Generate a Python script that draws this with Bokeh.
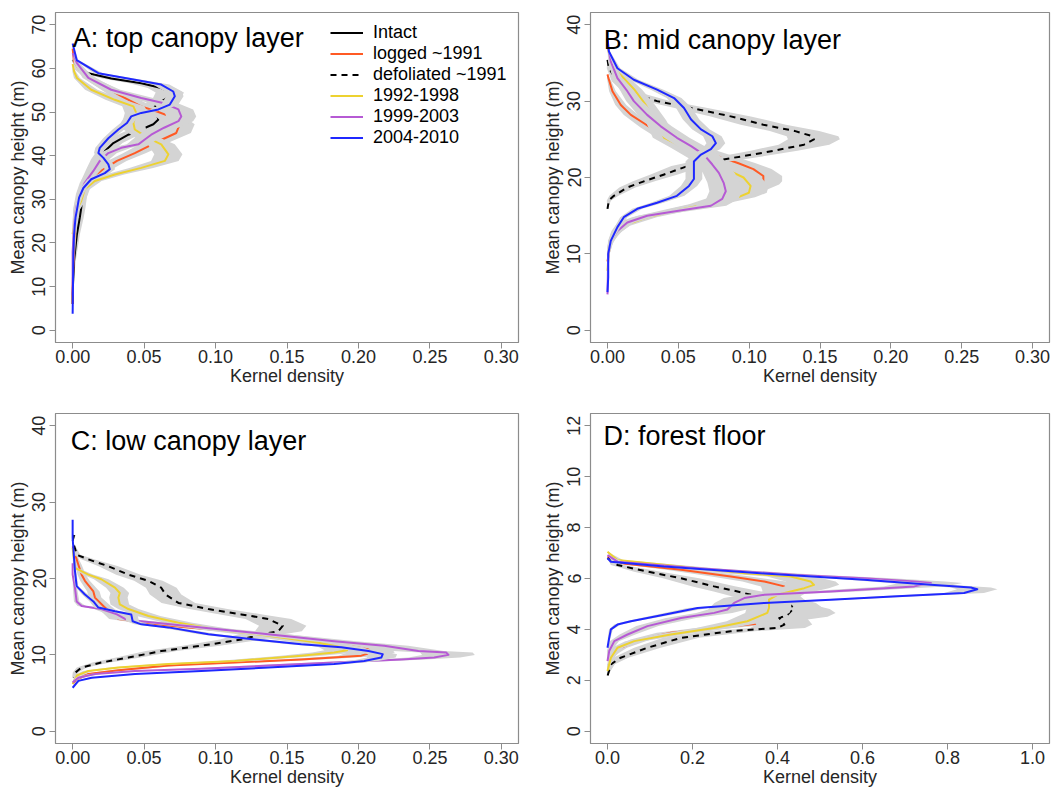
import math
from bokeh.plotting import figure
from bokeh.layouts import gridplot
from bokeh.models import Range1d, FixedTicker, PrintfTickFormatter, Label, Legend, LegendItem
from bokeh.embed import file_html
from bokeh.resources import INLINE

FONT = "Liberation Sans"

# ---------------- data (kernel density, canopy height in m) ----------------
series_names = ["Intact", "logged ~1991", "defoliated ~1991", "1992-1998", "1999-2003", "2004-2010"]

A_intact = [(0.000, 62.0), (0.004, 59.7), (0.011, 58.9), (0.027, 57.7), (0.048, 56.6), (0.062, 55.5),
            (0.068, 54.5), (0.066, 53.2), (0.059, 51.8), (0.056, 50.6), (0.059, 49.4), (0.060, 48.3),
            (0.0565, 47.2), (0.048, 46.0), (0.039, 44.8), (0.0285, 42.9), (0.0225, 41.0), (0.018, 39.2),
            (0.0145, 37.2), (0.010, 34.5), (0.007, 31.0), (0.006, 28.0), (0.005, 25.8), (0.003, 22.0),
            (0.001, 16.0), (0.000, 8.6), (0.000, 6.0)]
A_logged = [(0.000, 64.5), (0.001, 61.5), (0.005, 59.5), (0.016, 57.0), (0.033, 53.8), (0.048, 51.3),
            (0.060, 50.0), (0.068, 49.0), (0.075, 47.2), (0.0725, 45.2), (0.060, 43.3), (0.0435, 40.6),
            (0.031, 38.8), (0.020, 36.5), (0.011, 34.2), (0.005, 30.4), (0.002, 27.5), (0.001, 20.0),
            (0.000, 10.0), (0.000, 6.0)]
A_defoliated = []
A_1992 = [(0.000, 61.0), (0.001, 59.3), (0.003, 57.8), (0.013, 55.1), (0.0295, 52.8), (0.0425, 51.3),
          (0.0445, 49.8), (0.0425, 47.5), (0.0435, 46.0), (0.053, 44.0), (0.062, 42.6), (0.067, 40.3),
          (0.0645, 38.8), (0.048, 37.2), (0.0295, 35.7), (0.0155, 34.2), (0.0085, 32.3), (0.006, 29.6),
          (0.002, 27.0), (0.000, 22.0)]
A_1999 = [(0.000, 63.5), (0.003, 61.2), (0.011, 57.8), (0.027, 55.1), (0.048, 53.2), (0.064, 52.0),
          (0.074, 50.6), (0.076, 49.0), (0.074, 47.9), (0.064, 46.4), (0.055, 44.8), (0.0505, 43.7),
          (0.046, 42.6), (0.034, 41.8), (0.025, 40.6), (0.019, 38.8), (0.0145, 36.5), (0.0085, 33.8),
          (0.005, 31.2), (0.0025, 28.2), (0.001, 24.0), (0.000, 18.0), (0.000, 8.0)]
A_2004 = [(0.000, 65.7), (0.0028, 61.9), (0.018, 58.9), (0.0435, 57.4), (0.062, 56.3), (0.0704, 54.7),
          (0.0715, 53.6), (0.068, 51.7), (0.060, 50.6), (0.048, 49.8), (0.041, 49.0), (0.038, 47.5),
          (0.032, 46.0), (0.025, 44.0), (0.019, 41.8), (0.018, 40.6), (0.0215, 39.5), (0.025, 38.0),
          (0.026, 36.9), (0.0225, 36.0), (0.013, 34.6), (0.0075, 32.6), (0.0045, 30.4), (0.0035, 28.5),
          (0.002, 25.8), (0.001, 22.0), (0.0005, 17.5), (0.000, 3.8)]

B_intact = []
B_logged = [(0.000, 33.5), (0.0007, 33.0), (0.0035, 31.3), (0.0094, 29.5), (0.0165, 28.2), (0.0257, 27.1),
            (0.0306, 26.5), (0.045, 25.0), (0.061, 23.9), (0.0776, 22.8), (0.092, 21.9), (0.103, 21.1),
            (0.110, 20.2), (0.110, 19.5), (0.108, 19.1), (0.095, 18.0), (0.080, 17.2), (0.068, 16.5),
            (0.0447, 15.6), (0.0235, 14.8), (0.0115, 14.1), (0.0058, 13.0), (0.0023, 11.7), (0.000, 9.0)]
B_defoliated = [(0.000, 35.4), (0.001, 34.3), (0.007, 32.6), (0.0186, 31.0), (0.035, 30.0), (0.059, 29.1),
                (0.087, 28.0), (0.110, 26.9), (0.132, 26.1), (0.1447, 25.4), (0.1457, 25.0), (0.1387, 24.3),
                (0.1176, 23.5), (0.096, 22.8), (0.073, 22.1), (0.0565, 21.5), (0.040, 20.4), (0.0257, 19.5),
                (0.014, 18.7), (0.0045, 17.6), (0.001, 17.0), (0.000, 15.9)]
B_1992 = [(0.000, 37.0), (0.0035, 34.5), (0.0115, 33.0), (0.019, 31.5), (0.027, 29.5), (0.034, 27.5),
          (0.040, 25.2), (0.054, 23.9), (0.070, 22.3), (0.087, 20.8), (0.096, 20.0), (0.101, 18.9),
          (0.0998, 18.0), (0.092, 17.4), (0.075, 16.7), (0.054, 15.9), (0.028, 14.8), (0.0115, 13.7),
          (0.005, 12.6), (0.001, 10.9), (0.000, 7.8)]
B_1999 = [(0.000, 37.5), (0.0023, 35.2), (0.007, 33.0), (0.014, 31.3), (0.0186, 30.0), (0.028, 28.2),
          (0.0376, 26.7), (0.049, 25.2), (0.059, 24.1), (0.068, 23.0), (0.074, 21.7), (0.0786, 20.6),
          (0.082, 19.3), (0.0835, 18.2), (0.081, 17.2), (0.073, 16.3), (0.049, 15.6), (0.028, 15.0),
          (0.014, 14.1), (0.007, 13.0), (0.0023, 11.7), (0.0005, 10.0), (0.000, 4.7)]
B_2004 = [(0.000, 38.2), (0.001, 36.5), (0.007, 34.3), (0.0186, 32.8), (0.035, 31.5), (0.047, 30.4),
          (0.054, 29.1), (0.059, 27.6), (0.066, 26.3), (0.074, 25.4), (0.0765, 24.5), (0.073, 23.7),
          (0.066, 23.0), (0.061, 22.1), (0.061, 21.1), (0.061, 19.8), (0.0575, 18.9), (0.049, 17.6),
          (0.035, 16.7), (0.021, 15.9), (0.0115, 14.8), (0.007, 13.5), (0.0023, 11.7), (0.0005, 10.0),
          (0.0005, 6.9), (0.000, 5.0)]

C_intact = []
C_logged = [(0.000, 24.2), (0.004, 21.8), (0.0063, 20.5), (0.0086, 19.7), (0.0145, 18.3), (0.0156, 17.5),
            (0.022, 16.3), (0.0284, 15.3), (0.032, 14.7), (0.067, 13.8), (0.137, 12.7), (0.183, 11.6),
            (0.207, 10.7), (0.209, 10.3), (0.202, 9.9), (0.160, 9.4), (0.1135, 9.0), (0.067, 8.6),
            (0.032, 8.0), (0.011, 7.5), (0.003, 6.8), (0.000, 6.2)]
C_defoliated = [(0.001, 25.7), (0.000, 24.9), (0.003, 23.1), (0.011, 22.5), (0.025, 21.6), (0.039, 20.5),
                (0.053, 19.7), (0.062, 18.8), (0.065, 17.9), (0.074, 16.8), (0.095, 16.0), (0.118, 15.3),
                (0.137, 14.7), (0.147, 13.8), (0.144, 13.1), (0.132, 12.7), (0.118, 12.0), (0.090, 11.2),
                (0.062, 10.5), (0.039, 9.65), (0.020, 9.0), (0.0063, 8.35), (0.002, 7.7), (0.001, 7.0)]
C_1992 = [(0.000, 24.0), (0.0016, 21.4), (0.011, 20.5), (0.020, 19.9), (0.0296, 18.8), (0.033, 18.1),
          (0.032, 17.5), (0.033, 16.6), (0.039, 16.0), (0.053, 15.1), (0.074, 14.2), (0.102, 13.3),
          (0.137, 12.5), (0.172, 11.6), (0.188, 11.0), (0.192, 10.6), (0.183, 10.3), (0.160, 9.9),
          (0.1135, 9.2), (0.067, 8.8), (0.032, 8.35), (0.011, 7.9), (0.003, 7.3), (0.000, 6.2)]
C_1999 = [(0.000, 22.0), (0.000, 20.5), (0.0016, 18.8), (0.0028, 17.0), (0.0063, 16.4), (0.020, 16.0),
          (0.031, 15.3), (0.0366, 14.7), (0.042, 14.5), (0.048, 14.4), (0.090, 13.6), (0.137, 12.7),
          (0.183, 11.8), (0.218, 11.2), (0.242, 10.5), (0.2615, 10.3), (0.263, 10.0), (0.253, 9.65),
          (0.230, 9.4), (0.183, 9.0), (0.137, 8.6), (0.090, 8.2), (0.0436, 7.9), (0.0156, 7.5),
          (0.004, 7.0), (0.000, 6.4)]
C_2004 = [(0.000, 27.7), (0.000, 25.3), (0.0016, 21.0), (0.0028, 19.0), (0.0086, 17.9), (0.0145, 17.0),
          (0.018, 16.2), (0.0296, 15.7), (0.041, 15.3), (0.042, 14.4), (0.048, 14.0), (0.067, 13.6),
          (0.095, 12.7), (0.1275, 12.0), (0.160, 11.4), (0.188, 11.0), (0.207, 10.5), (0.217, 10.1),
          (0.216, 9.65), (0.204, 9.2), (0.183, 8.8), (0.137, 8.35), (0.090, 7.9), (0.0436, 7.5),
          (0.0133, 7.0), (0.004, 6.6), (0.000, 5.7)]

D_intact = []
D_logged = [(0.000, 6.86), (0.031, 6.6), (0.173, 6.34), (0.290, 6.08), (0.369, 5.88), (0.416, 5.69),
            (0.420, 5.5), (0.400, 5.3), (0.420, 5.0), (0.465, 4.8), (0.478, 4.65), (0.460, 4.5),
            (0.400, 4.35), (0.353, 4.22), (0.251, 4.06), (0.149, 3.87), (0.078, 3.6), (0.031, 3.28),
            (0.012, 3.02), (0.000, 2.76)]
D_defoliated = [(0.000, 6.8), (0.0235, 6.53), (0.094, 6.27), (0.173, 6.01), (0.251, 5.69), (0.306, 5.49),
                (0.353, 5.3), (0.400, 5.17), (0.424, 5.04), (0.439, 4.84), (0.424, 4.58), (0.404, 4.45),
                (0.416, 4.19), (0.400, 4.06), (0.290, 3.93), (0.173, 3.67), (0.094, 3.28), (0.031, 2.89),
                (0.008, 2.63), (0.000, 2.17)]
D_1992 = [(0.000, 7.05), (0.0235, 6.73), (0.173, 6.47), (0.329, 6.2), (0.431, 6.08), (0.478, 5.88),
          (0.486, 5.75), (0.463, 5.62), (0.431, 5.49), (0.400, 5.36), (0.380, 5.17), (0.380, 4.84),
          (0.376, 4.65), (0.329, 4.32), (0.251, 4.06), (0.149, 3.8), (0.063, 3.54), (0.0235, 3.28),
          (0.008, 2.89), (0.000, 2.37)]
D_1999 = [(0.000, 6.92), (0.0235, 6.66), (0.212, 6.4), (0.447, 6.14), (0.604, 6.01), (0.722, 5.88),
          (0.761, 5.82), (0.722, 5.69), (0.525, 5.49), (0.369, 5.36), (0.322, 5.23), (0.298, 5.04),
          (0.282, 4.78), (0.251, 4.65), (0.173, 4.45), (0.094, 4.13), (0.047, 3.8), (0.016, 3.54),
          (0.004, 3.15), (0.000, 2.76)]
D_2004 = [(0.000, 6.8), (0.008, 6.66), (0.133, 6.47), (0.369, 6.2), (0.604, 5.95), (0.761, 5.75),
          (0.855, 5.65), (0.870, 5.58), (0.839, 5.43), (0.682, 5.3), (0.525, 5.17), (0.369, 5.04),
          (0.259, 4.9), (0.212, 4.84), (0.133, 4.58), (0.055, 4.32), (0.0235, 4.19), (0.008, 4.0),
          (0.004, 3.67), (0.000, 3.28)]

x_ticks_canopy = [0.0, 0.05, 0.10, 0.15, 0.20, 0.25, 0.30]
x_ticks_floor = [0.0, 0.2, 0.4, 0.6, 0.8, 1.0]
y_ticks_top = [0, 10, 20, 30, 40, 50, 60, 70]
y_ticks_mid = [0, 10, 20, 30, 40]
y_ticks_floor = [0, 2, 4, 6, 8, 10, 12]

# ---------------- styles ----------------
line_colors = ["#000000", "#FF5A24", "#000000", "#EDD230", "#B65AD4", "#1F28FF"]
line_dashes = ["solid", "solid", "6 5", "solid", "solid", "solid"]
# relative width of the grey uncertainty band drawn behind each series (estimated by eye)
band_factor = [1.0, 1.0, 1.2, 1.0, 1.0, 0.6]
BAND = "#D4D4D4"
FRAME = "#8C8C8C"
TXT = "#262626"


def make_panel(title, series, xr, yr, xticks, yticks, xfmt, w, h, borders, title_pos, band_k, legend=False):
    left, right, top, bottom = borders
    p = figure(width=w, height=h, x_range=Range1d(*xr), y_range=Range1d(*yr),
               output_backend="svg", toolbar_location=None,
               min_border_left=left, min_border_right=right, min_border_top=top, min_border_bottom=bottom)
    p.xgrid.visible = False
    p.ygrid.visible = False
    p.outline_line_color = FRAME
    p.outline_line_width = 1.2
    p.background_fill_color = "white"
    p.border_fill_color = "white"

    for ax in (p.xaxis[0], p.yaxis[0]):
        ax.axis_line_color = FRAME
        ax.major_tick_line_color = FRAME
        ax.minor_tick_line_color = None
        ax.major_tick_out = 6
        ax.major_tick_in = 0
        ax.major_label_text_font = FONT
        ax.major_label_text_font_size = "18px"
        ax.major_label_text_color = TXT
        ax.axis_label_text_font = FONT
        ax.axis_label_text_font_size = "18px"
        ax.axis_label_text_font_style = "normal"
        ax.axis_label_text_color = TXT
    p.xaxis.ticker = FixedTicker(ticks=xticks)
    p.yaxis.ticker = FixedTicker(ticks=yticks)
    p.xaxis.formatter = PrintfTickFormatter(format=xfmt)
    p.yaxis.formatter = PrintfTickFormatter(format="%d")
    p.xaxis.axis_label = "Kernel density"
    p.yaxis.axis_label = "Mean canopy height (m)"
    p.yaxis.major_label_orientation = "vertical"
    p.xaxis.major_label_standoff = 1
    p.yaxis.major_label_standoff = 4
    p.xaxis.axis_label_standoff = 0
    p.yaxis.axis_label_standoff = 2

    renderers = []
    for i, pts in enumerate(series):
        if pts:
            xs = [d for d, _ in pts]
            ys = [v for _, v in pts]
            half = [band_k * band_factor[i] * math.sqrt(d) for d in xs]
            p.harea(x1=[d - hw for d, hw in zip(xs, half)], x2=[d + hw for d, hw in zip(xs, half)],
                    y=ys, fill_color=BAND)
        else:
            xs, ys = [float("nan")], [float("nan")]
        r = p.line(xs, ys, line_color=line_colors[i], line_width=2, line_dash=line_dashes[i],
                   line_join="round")
        renderers.append(r)

    p.add_layout(Label(x=title_pos[0], y=title_pos[1], text=title, text_font=FONT,
                       text_font_size="27px", text_color="#000000",
                       text_align="left", text_baseline="alphabetic"))

    if legend:
        items = [LegendItem(label=n, renderers=[r]) for n, r in zip(series_names, renderers)]
        lg = Legend(items=items, location=(275, 194), border_line_color=None,
                    background_fill_alpha=0, label_text_font=FONT, label_text_font_size="18px",
                    label_text_color="#000000", glyph_width=33, glyph_height=21, label_height=21,
                    label_standoff=10, padding=0, margin=0, spacing=0)
        p.add_layout(lg)
    return p


pA = make_panel("A: top canopy layer", [A_intact, A_logged, A_defoliated, A_1992, A_1999, A_2004],
                (-0.012, 0.312), (-2.8, 72.8), x_ticks_canopy, y_ticks_top, "%.2f",
                532, 394, (55, 14, 12, 52), (0.0, 67.0), 0.038, legend=True)
pB = make_panel("B: mid canopy layer", [B_intact, B_logged, B_defoliated, B_1992, B_1999, B_2004],
                (-0.012, 0.312), (-1.6, 41.6), x_ticks_canopy, y_ticks_mid, "%.2f",
                532, 394, (58, 15, 12, 52), (-0.0026, 38.0), 0.040)
pC = make_panel("C: low canopy layer", [C_intact, C_logged, C_defoliated, C_1992, C_1999, C_2004],
                (-0.012, 0.312), (-1.6, 41.6), x_ticks_canopy, y_ticks_mid, "%.2f",
                532, 395, (55, 14, 19, 45), (-0.0014, 38.0), 0.036)
pD = make_panel("D: forest floor", [D_intact, D_logged, D_defoliated, D_1992, D_1999, D_2004],
                (-0.04, 1.04), (-0.48, 12.48), x_ticks_floor, y_ticks_floor, "%.1f",
                532, 395, (58, 15, 19, 45), (-0.0094, 11.58), 0.085)

grid = gridplot([[pA, pB], [pC, pD]], toolbar_location=None)
open("out.html", "w").write(file_html(grid, INLINE))
